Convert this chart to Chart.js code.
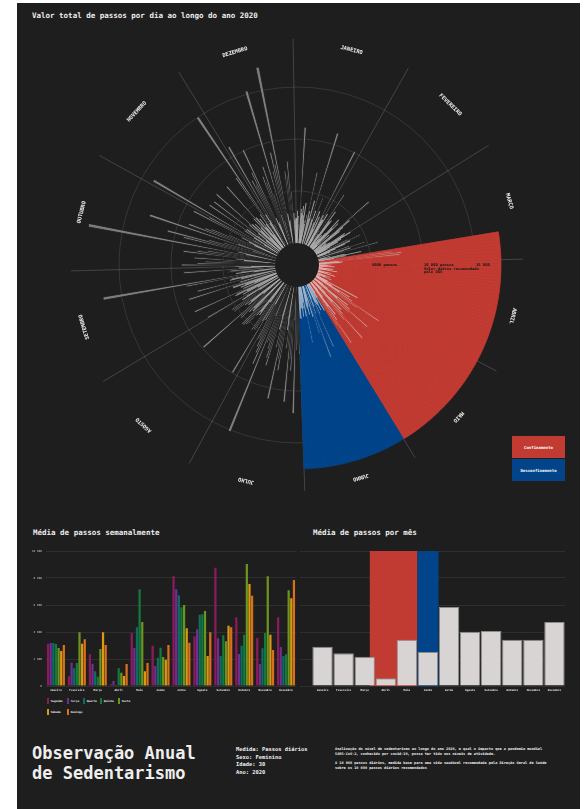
<!DOCTYPE html>
<html><head><meta charset="utf-8">
<script src="https://cdn.jsdelivr.net/npm/chart.js@4.4.1/dist/chart.umd.min.js"></script>
<style>
body{margin:0;background:#fff;width:585px;height:809px;overflow:hidden;position:relative;font-family:"DejaVu Sans Mono",monospace;}
#panel{position:absolute;left:17px;top:3px;width:563px;height:806px;background:#1e1e1e;}
.abs{position:absolute;}
.t{color:#eee;font-weight:bold;white-space:nowrap;}
canvas{position:absolute;}
.box{position:absolute;width:53px;height:22px;color:#fff;font-size:4px;font-weight:bold;display:flex;align-items:center;justify-content:center;}
.lg{position:absolute;color:#eee;font-size:2.8px;font-weight:bold;white-space:nowrap;display:flex;align-items:center;}
.lg i{display:inline-block;width:1.7px;height:5.7px;margin-right:2px;}
</style></head>
<body>
<div id="panel"></div>
<div class="abs t" style="left:32px;top:11px;font-size:7.5px;">Valor total de passos por dia ao longo do ano 2020</div>
<canvas id="polar" width="560" height="524" style="left:17px;top:3px;"></canvas>
<div class="box" style="left:512px;top:436px;background:#c23b32;">Confinamento</div>
<div class="box" style="left:512px;top:459px;background:#01448a;">Desconfinamento</div>

<div class="abs t" style="left:33px;top:528px;font-size:7.5px;">Média de passos semanalmente</div>
<div class="abs t" style="left:313px;top:528px;font-size:7.5px;">Média de passos por mês</div>
<canvas id="weekly" width="285" height="150" style="left:17px;top:545px;"></canvas>
<canvas id="monthly" width="280" height="150" style="left:300px;top:545px;"></canvas>
<div id="legend"></div>

<div class="abs t" style="left:32px;top:743px;font-size:17px;line-height:20px;">Observação Anual<br>de Sedentarismo</div>
<div class="abs t" style="left:236px;top:746px;font-size:5.4px;line-height:7.6px;">Medida: Passos diários<br>Sexo: Feminino<br>Idade: 30<br>Ano: 2020</div>
<div class="abs t" style="left:335px;top:747px;font-size:3.55px;line-height:4.7px;">Analização do nível de sedentarismo ao longo do ano 2020, e qual o impacto que a pandemia mundial<br>SARS-CoV-2, conhecido por covid-19, possa ter tido nos níveis de atividade.<br><br>A 10 000 passos diários, medida base para uma vida saudável recomendada pela Direção Geral de Saúde<br>sobre os 10 000 passos diários recomendados</div>

<script>
// ---------------- DATA ----------------
const monthNames = ['Janeiro','Fevereiro','Março','Abril','Maio','Junho','Julho','Agosto','Setembro','Outubro','Novembro','Dezembro'];
const monthDays = [31,29,31,30,31,30,31,31,30,31,30,31];

// daily steps 2020
const passosJan = [2400,3100,2600,1800,11150,3300,2900,3600,2700,3900,2200,1900,2800,7000,3200,2500,4300,2600,11150,2500,3400,2100,4800,2300,3500,1700,3000,2400,10100,3300,2800];
const passosFev = [2900,3600,900,1800,6000,1500,4200,3100,3300,700,1600,1200,2000,3800,2800,3500,600,2100,1000,7080,4500,3600,3100,800,1400,1300,1700,3400,3200];
const passosMar = [3900,2800,2400,1500,1100,3300,4600,3500,2900,1900,1300,900,3200,4800,3300,2600,5960,1200,700,2600,4200,2700,1500,600,7100,8000,7800,1900,2300,2100,700];
const passosAbr = [100,1200,900,700,1500,100,400,50,1400,1100,800,1800,150,300,100,1300,1000,600,1700,100,400,50,1300,900,800,1500,150,350,80,1200];
const passosMai = [4500,1200,1800,3800,2700,4200,7400,4900,1000,1600,4100,2900,4500,6900,4600,1100,1700,3900,2800,4300,7300,4800,1000,1800,3900,2900,4400,7000,4900,1100,1600];
const passosJun = [3000,1500,2100,2800,2200,1900,3100,6500,1400,2200,2900,7300,2000,4800,3100,1500,2000,2800,2200,1900,5500,2900,1500,2100,2900,2100,2000,3100,3000,1600];
const passosJul = [6500,5600,6100,12160,3200,8100,7000,11120,5800,6000,4200,3300,8200,7100,11040,5900,6100,4300,3100,8000,7300,6400,5700,5900,15140,3200,8300,7200,6600,5800,6000];
const passosAgo = [2200,4000,9970,4200,5300,5300,5500,2300,3900,3600,4100,5200,5400,5600,5640,4000,3700,4300,5300,5200,9860,2100,3900,3500,4200,5400,5300,5500,2200,4100,3600];
const passosSet = [7840,2200,3800,3300,4500,4300,8700,3500,2300,3700,3200,4400,4400,8800,3600,2200,7800,3400,4500,4300,8700,16800,2100,3800,3300,4600,4300,8800,3500,2300];
const passosOut = [3800,9000,7500,6700,5100,7800,3000,3800,8900,7600,6600,5000,18300,2900,3700,9100,10770,6700,5200,2300,12840,3900,9000,7400,6800,5000,2400,3000,3800,9100,7500];
const passosNov = [2700,13900,1600,2800,3900,8100,3800,2600,7900,1700,2700,3900,8200,3700,2700,3500,1600,2900,4000,8000,3900,2600,3600,1600,2800,3900,8100,15000,2700,3600];
const passosDez = [2900,11000,2300,7100,6500,7800,10100,2800,2200,2400,7000,6400,7900,5100,2900,15300,2300,7200,9000,7800,17270,2900,2200,2300,7000,6500,7900,5000,2900,2200,2400];

// lockdown phases
const phaseNames = ['Confinamento','Desconfinamento'];
const phaseStart = ['2020-03-24','2020-06-01'];
const phaseEnd   = ['2020-05-31','2020-06-30'];
const phaseReach = [17500,17500];

// radial reference ticks
const radialTicks = [5000,10000,15000];
const radialTickLabels = ['5000 passos','10 000 passos\nValor diário recomendado\npelo DGS','15 000'];

// weekday averages per month
const weekdayNames = ['Segunda','Terça','Quarta','Quinta','Sexta','Sábado','Domingo'];
const mediaSegunda = [3135,716,2346,123,3926,2988,8148,3679,8765,5086,3556,5086];
const mediaTerca   = [3185,1728,1654,370,2815,1480,7160,4197,3531,2370,1630,2889];
const mediaQuarta  = [3185,1309,1086,74,4346,2100,6716,5284,2222,2988,2790,2222];
const mediaQuinta  = [3111,1704,691,1309,7160,2840,5827,5308,3753,3802,3926,2346];
const mediaSexta   = [2815,3975,2741,988,4740,2150,6000,5556,3309,9037,8123,7086];
const mediaSabado  = [2593,3135,3975,741,1086,1950,4272,2222,4469,7555,3802,6494];
const mediaDomingo = [3037,3457,3037,1630,1704,3040,3210,3975,4346,6691,2667,7852];

// monthly averages
const mediaMensal = [2911,2420,2170,570,3430,2520,5850,4020,4070,3430,3430,4740];

// ---------------- STYLE ----------------
const BG = '#1e1e1e';
const phaseColors = ['#c23b32','#01448a'];
const weekdayColors = ['#8e1a5e','#6e2f90','#0f6d60','#137a3c','#6c9420','#dc9a12','#d9701c'];
const FONT = '"DejaVu Sans Mono", monospace';

// ---------------- BUILD ----------------
const daily = [].concat(passosJan,passosFev,passosMar,passosAbr,passosMai,passosJun,passosJul,passosAgo,passosSet,passosOut,passosNov,passosDez);
const monthStart = []; {let c=0; for (const d of monthDays){monthStart.push(c); c+=d;}}
const dayLabels = [];
monthDays.forEach((n,m)=>{for(let d=1;d<=n;d++) dayLabels.push(d+' '+monthNames[m]);});
function dayIndex(s){const [y,m,d]=s.split('-').map(Number); return monthStart[m-1]+d-1;}
const dayPhase = dayLabels.map((_,i)=>{for(let p=0;p<phaseNames.length;p++){if(i>=dayIndex(phaseStart[p]) && i<=dayIndex(phaseEnd[p])) return p;} return -1;});
const sectorValues = dayPhase.map(p=> p>=0 ? phaseReach[p] : null);

let gradCache=null;
function barFill(c){
  const chart=c.chart, s=chart.scales.r;
  if(!s || !isFinite(s.xCenter) || !s.drawingArea) return 'rgba(200,200,200,0.5)';
  const key=s.xCenter+','+s.yCenter+','+s.drawingArea;
  if(!gradCache||gradCache.key!==key){
    const r0=s.getDistanceFromCenterForValue(0);
    const g=chart.ctx.createRadialGradient(s.xCenter,s.yCenter,r0,s.xCenter,s.yCenter,s.drawingArea);
    g.addColorStop(0,'rgba(235,235,235,0.95)');
    g.addColorStop(0.1,'rgba(215,215,215,0.8)');
    g.addColorStop(0.28,'rgba(205,205,205,0.6)');
    g.addColorStop(1,'rgba(200,200,200,0.55)');
    gradCache={key,g};
  }
  return gradCache.g;
}

const polarDecor = {
  id:'polarDecor',
  beforeDatasetsDraw(chart){
    const s=chart.scales.r, ctx=chart.ctx;
    const r0=s.getDistanceFromCenterForValue(0), r1=s.drawingArea+22;
    ctx.save(); ctx.strokeStyle='rgba(255,255,255,0.22)'; ctx.lineWidth=0.8;
    monthStart.forEach(b=>{
      const p0=s.getPointPosition(b,r0), p1=s.getPointPosition(b,r1);
      ctx.beginPath(); ctx.moveTo(p0.x,p0.y); ctx.lineTo(p1.x,p1.y); ctx.stroke();
    });
    ctx.restore();
  },
  afterDraw(chart){
    const s=chart.scales.r, ctx=chart.ctx;
    const r0=s.getDistanceFromCenterForValue(0);
    ctx.save();
    ctx.fillStyle=BG; ctx.beginPath(); ctx.arc(s.xCenter,s.yCenter,r0,0,Math.PI*2); ctx.fill();
    ctx.fillStyle='#f0f0f0'; ctx.font='bold 5.4px '+FONT; ctx.textAlign='center'; ctx.textBaseline='bottom';
    monthNames.forEach((m,i)=>{
      const mid=monthStart[i]+monthDays[i]/2;
      const pos=s.getPointPosition(mid,s.drawingArea+15);
      const a=s.getIndexAngle(mid);
      ctx.save(); ctx.translate(pos.x,pos.y); ctx.rotate(a); ctx.fillText(m.toUpperCase(),0,0); ctx.restore();
    });
    ctx.fillStyle='#161616'; ctx.font='bold 3.8px '+FONT; ctx.textAlign='left'; ctx.textBaseline='middle';
    radialTicks.forEach((v,i)=>{
      const r=s.getDistanceFromCenterForValue(v);
      radialTickLabels[i].split('\n').forEach((ln,j)=>ctx.fillText(ln,s.xCenter+r+1,s.yCenter+j*3.7));
    });
    ctx.restore();
  }
};

new Chart(document.getElementById('polar'),{
  type:'polarArea',
  data:{labels:dayLabels,datasets:[
    {label:'Passos',data:daily,order:0,backgroundColor:barFill,
     borderWidth:c=>(daily[c.dataIndex]>4500?0.9:0),
     borderColor:c=>(dayPhase[c.dataIndex]>=0?phaseColors[dayPhase[c.dataIndex]]:BG)},
    {label:'Fases',data:sectorValues,order:1,
     backgroundColor:dayPhase.map(p=>p>=0?phaseColors[p]:'rgba(0,0,0,0)'),
     borderColor:dayPhase.map(p=>p>=0?phaseColors[p]:'rgba(0,0,0,0)'),borderWidth:0.8}
  ]},
  options:{responsive:false,animation:false,events:[],
    layout:{padding:{left:76,right:76,top:58,bottom:58}},
    plugins:{legend:{display:false},tooltip:{enabled:false}},
    scales:{r:{min:-2115,max:17500,startAngle:-1,z:1,
      ticks:{display:false},
      afterBuildTicks(sc){sc.ticks=radialTicks.map(v=>({value:v}));},
      grid:{color:'rgba(120,120,120,0.35)',lineWidth:0.8,circular:true},
      angleLines:{display:false},pointLabels:{display:false}}}
  },
  plugins:[polarDecor]
});

const fmt = v => v===0 ? '0' : String(v).replace(/\B(?=(\d{3})+(?!\d))/g,' ');
const xAxis = {grid:{display:false,drawTicks:false},border:{display:false},
  ticks:{color:'#e8e8e8',font:{size:2.8,family:FONT,weight:'bold'},padding:2.5,maxRotation:0,autoSkip:false},
  afterFit(sc){sc.height=9;}};

const weekdaySeries=[mediaSegunda,mediaTerca,mediaQuarta,mediaQuinta,mediaSexta,mediaSabado,mediaDomingo];
new Chart(document.getElementById('weekly'),{
  type:'bar',
  data:{labels:monthNames,datasets:weekdayNames.map((w,i)=>({label:w,data:weekdaySeries[i],backgroundColor:weekdayColors[i],borderWidth:0,categoryPercentage:0.88,barPercentage:0.85}))},
  options:{responsive:false,animation:false,events:[],
    layout:{padding:{top:6,right:5.5,left:0,bottom:0}},
    plugins:{legend:{display:false},tooltip:{enabled:false}},
    scales:{x:xAxis,
      y:{min:0,max:10000,ticks:{stepSize:2000,color:'#aaa',font:{size:2.8,family:FONT,weight:'bold'},padding:3.5,callback:v=>fmt(v)},
        grid:{color:'#333',drawTicks:false,lineWidth:0.8},border:{display:false},afterFit(sc){sc.width=28.5;}}}
  }
});

const monthBands = {
  id:'monthBands',
  beforeDatasetsDraw(chart){
    const x=chart.scales.x, y=chart.scales.y, ctx=chart.ctx;
    const pos = i => { let m=0; while(m<11 && monthStart[m+1]<=i) m++; return m-0.5+(i-monthStart[m])/monthDays[m]; };
    ctx.save();
    phaseNames.forEach((p,k)=>{
      const a=x.getPixelForValue(pos(dayIndex(phaseStart[k]))), b=x.getPixelForValue(pos(dayIndex(phaseEnd[k])+1));
      ctx.fillStyle=phaseColors[k]; ctx.fillRect(a,y.getPixelForValue(y.max),b-a,y.getPixelForValue(0)-y.getPixelForValue(y.max));
    });
    ctx.restore();
  }
};
new Chart(document.getElementById('monthly'),{
  type:'bar',
  data:{labels:monthNames,datasets:[{label:'Média mensal',data:mediaMensal,backgroundColor:'#d7d4d3',borderColor:'#8c8a8a',borderWidth:1,categoryPercentage:1,barPercentage:0.97}]},
  options:{responsive:false,animation:false,events:[],
    layout:{padding:{top:6,right:15,left:0,bottom:0}},
    plugins:{legend:{display:false},tooltip:{enabled:false}},
    scales:{x:xAxis,
      y:{min:0,max:10000,ticks:{stepSize:2000,display:false},grid:{color:'#333',lineWidth:0.8,tickLength:12},border:{display:false},afterFit(sc){sc.width=12;}}}
  },
  plugins:[monthBands]
});

const lgPos=[[47,698],[67,698],[83,698],[100,698],[118,698],[47,709],[67,709]];
const lg=document.getElementById('legend');
weekdayNames.forEach((w,i)=>{const d=document.createElement('div');d.className='lg';d.style.left=lgPos[i][0]+'px';d.style.top=lgPos[i][1]+'px';d.innerHTML='<i style="background:'+weekdayColors[i]+'"></i>'+w;lg.appendChild(d);});
</script>
</body></html>
